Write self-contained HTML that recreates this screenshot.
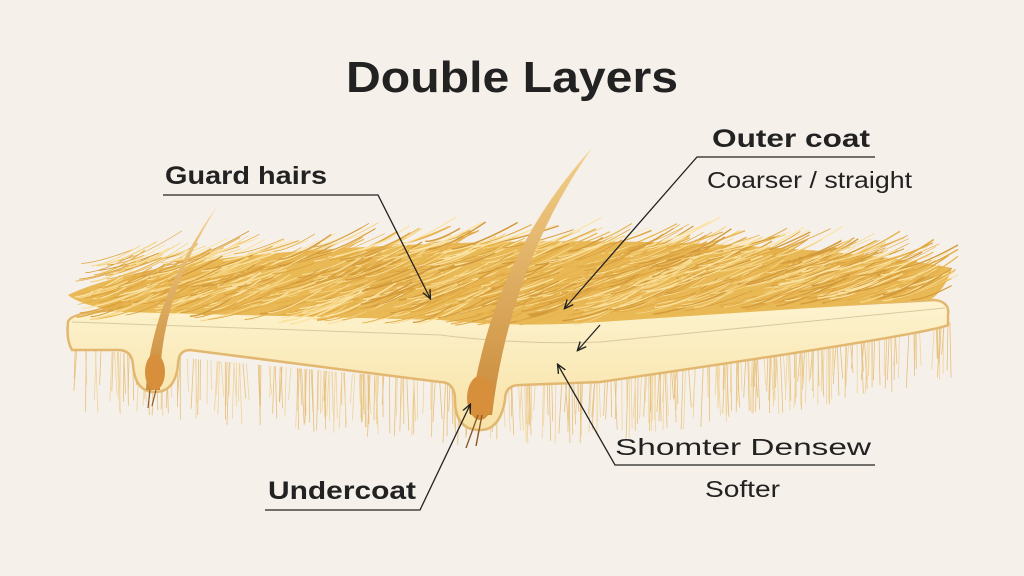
<!DOCTYPE html>
<html><head><meta charset="utf-8"><style>
html,body{margin:0;padding:0;background:#f6f0ea;}
svg{display:block}
text{font-family:"Liberation Sans",sans-serif;fill:#222}
</style></head><body>
<svg id="s" width="1024" height="576" viewBox="0 0 1024 576" xmlns="http://www.w3.org/2000/svg">
<defs>
<marker id="ar" markerWidth="10" markerHeight="10" refX="8" refY="5" orient="auto" markerUnits="userSpaceOnUse"><path d="M0,1 L9,5 L0,9" fill="none" stroke="#222" stroke-width="1.4"/></marker>
<linearGradient id="skin" x1="0" y1="0" x2="0" y2="1"><stop offset="0" stop-color="#fdf3cf"/><stop offset="1" stop-color="#f8e2a6"/></linearGradient>
<linearGradient id="gh" x1="0" y1="1" x2="0" y2="0"><stop offset="0" stop-color="#c98a3a"/><stop offset="1" stop-color="#f3d08a"/></linearGradient>
</defs>
<rect width="1024" height="576" fill="#f6f0ea"/>
<text x="512" y="92" text-anchor="middle" font-size="44" font-weight="bold" textLength="332" lengthAdjust="spacingAndGlyphs">Double Layers</text>
<g id="under"></g>
<path d="M68,322 Q70,312 120,310 L440,318 Q520,325 600,318 L935,300 Q950,302 948,315 L948,325 Q930,334 600,382 L520,385 Q505,385 505,400 Q500,430 480,430 Q455,430 455,400 Q455,382 440,382 L190,350 Q178,350 178,365 Q175,392 155,392 Q135,392 133,365 Q132,350 118,350 L72,350 Q66,340 68,322 Z" fill="url(#skin)" stroke="#e2b871" stroke-width="2.5"/>
<path d="M72,322 L440,335 Q520,345 600,342 L945,308" fill="none" stroke="#d9c9a0" stroke-width="1"/>
<g id="fur"></g>
<path d="M146,390 Q150,300 218,205 Q158,300 160,390 Z" fill="url(#gh)"/>
<ellipse cx="155" cy="372" rx="10" ry="18" fill="#d88f3b"/>
<path d="M150,390 L148,408 M156,390 L152,406" stroke="#8a5a2a" stroke-width="1.2"/>
<path d="M470,415 Q490,260 592,148 Q510,265 492,415 Z" fill="url(#gh)"/>
<ellipse cx="480" cy="398" rx="13" ry="22" fill="#d88f3b"/>
<path d="M478,415 L466,448 M482,415 L476,446" stroke="#8a5a2a" stroke-width="1.4"/>
<g stroke="#222" stroke-width="1.3" fill="none">
<path d="M163,195 L378,195 L430,298" marker-end="url(#ar)"/>
<path d="M875,157 L697,157 L565,308" marker-end="url(#ar)"/>
<path d="M600,325 L578,350" marker-end="url(#ar)"/>
<path d="M875,465 L615,465 L558,365" marker-end="url(#ar)"/>
<path d="M265,510 L420,510 L470,405" marker-end="url(#ar)"/>
</g>
<text x="165" y="184" font-size="25" font-weight="bold" textLength="162" lengthAdjust="spacingAndGlyphs">Guard hairs</text>
<text x="712" y="147" font-size="25" font-weight="bold" textLength="158" lengthAdjust="spacingAndGlyphs">Outer coat</text>
<text x="707" y="188" font-size="23" textLength="205" lengthAdjust="spacingAndGlyphs">Coarser / straight</text>
<text x="615" y="455" font-size="23" textLength="256" lengthAdjust="spacingAndGlyphs">Shomter Densew</text>
<text x="705" y="497" font-size="23" textLength="75" lengthAdjust="spacingAndGlyphs">Softer</text>
<text x="268" y="499" font-size="25" font-weight="bold" textLength="148" lengthAdjust="spacingAndGlyphs">Undercoat</text>
</svg>
<script>
(function(){
var seed=7;function r(){seed=(seed*16807)%2147483647;return seed/2147483647;}
var NS="http://www.w3.org/2000/svg";
var fur=document.getElementById("fur"),under=document.getElementById("under");
function skinTop(x){ if(x<440) return 318+ (x-120)*0.02; if(x<600) return 325; return 318-(x-600)*0.053;}
function skinBot(x){ if(x<440) return 350+(x-72)*0.09; if(x<600) return 384; return 384-(x-600)*0.17;}
var base=document.createElementNS(NS,"path");
base.setAttribute("d","M68,295 Q120,270 250,255 Q450,238 650,242 Q850,248 952,268 Q945,290 930,300 L600,322 Q520,328 440,320 L120,312 Q80,305 68,295 Z");
base.setAttribute("fill","#e9b955");fur.appendChild(base);
var cols=["#e0a842","#f5d585","#d39a3c","#fbe3a3","#e8b450"];
for(var i=0;i<1000;i++){
 var x=95+r()*830; var top=262-Math.sin((x-65)/890*Math.PI)*25; var bot=skinTop(x)-4;
 var y=top+r()*(bot-top); var len=22+r()*30; var ang=-0.25-r()*0.35;
 var x2=x+len*0.5*Math.cos(ang)*1.0+len*0.5, y2=y+len*Math.sin(ang);
 if(x2>958) x2=958;
 var p=document.createElementNS(NS,"path");
 p.setAttribute("d","M"+(x-len/2).toFixed(1)+","+(y+len*0.12).toFixed(1)+" Q"+x.toFixed(1)+","+(y+3).toFixed(1)+" "+x2.toFixed(1)+","+y2.toFixed(1));
 p.setAttribute("stroke",cols[i%5]);p.setAttribute("stroke-width",(0.6+r()*0.9).toFixed(2));p.setAttribute("fill","none");
 fur.appendChild(p);
}
for(var j=0;j<360;j++){
 var x=70+r()*880; var y=skinBot(x)-2; var len=28+r()*35;
 var p=document.createElementNS(NS,"path");
 p.setAttribute("d","M"+x.toFixed(1)+","+y.toFixed(1)+" L"+(x+(r()-0.5)*6).toFixed(1)+","+(y+len).toFixed(1));
 p.setAttribute("stroke",r()<0.5?"#e6c07a":"#f0d49a");p.setAttribute("stroke-width","0.8");p.setAttribute("fill","none");
 under.appendChild(p);
}
})();
</script>
</body></html>
